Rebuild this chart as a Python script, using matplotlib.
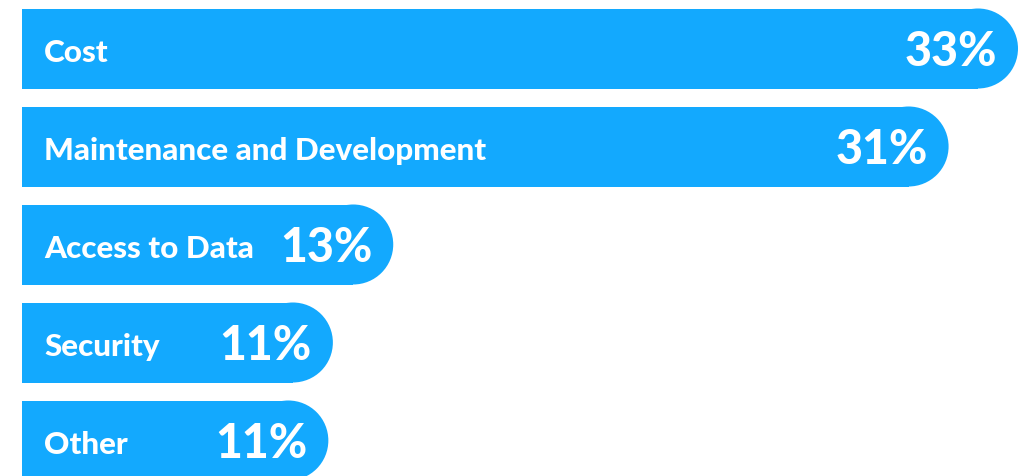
import matplotlib
matplotlib.use("Agg")
import matplotlib.pyplot as plt
from matplotlib.patches import Ellipse
import numpy as np

categories = ["Cost", "Maintenance and Development", "Access to Data", "Security", "Other"]
values = [33.0, 30.7, 12.3, 10.3, 10.15]
pct_labels = ["33%", "31%", "13%", "11%", "11%"]

COLOR = "#13A9FE"
W, H, DPI = 1025, 477, 100
fig = plt.figure(figsize=(W / DPI, H / DPI), dpi=DPI)
ax = fig.add_axes([22 / W, 0, 1 - 22 / W, 1])

k = 996 / 33.0  # px per unit
ax.set_xlim(0, (W - 22) / k)
pitch = 98.0
ax.set_ylim((H - 49.5) / pitch, -49.5 / pitch)
ax.axis("off")

bar_h = 80 / pitch
r = 40 / k
ys = np.arange(len(categories))
ax.barh(ys, [v - r for v in values], left=0, height=bar_h, color=COLOR, linewidth=0)
for y, v in zip(ys, values):
    ax.add_patch(Ellipse((v - r, y), 2 * r, bar_h, facecolor=COLOR, edgecolor="none"))

px2pt = 72 / DPI
for y, v, cat, pl in zip(ys, values, categories, pct_labels):
    ax.annotate(cat, xy=(0, y), xytext=(22 * px2pt, -12.5 * px2pt), textcoords="offset points",
                ha="left", va="baseline", color="white", fontsize=22.6, fontweight="black",
                family="Lato")
    ax.annotate(pl, xy=(v, y), xytext=(-21 * px2pt, -16.5 * px2pt), textcoords="offset points",
                ha="right", va="baseline", color="white", fontsize=33.5, fontweight="black",
                family="Lato")

fig.savefig("out.png", dpi=DPI, facecolor="white")
